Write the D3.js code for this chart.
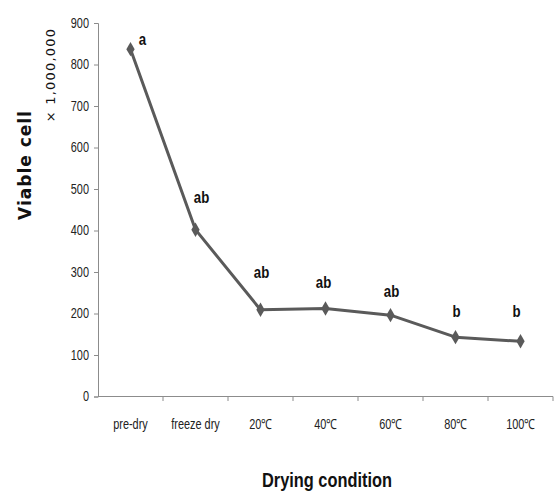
<!DOCTYPE html>
<html><head><meta charset="utf-8">
<script src="https://cdn.jsdelivr.net/npm/d3@7"></script>
<style>body{margin:0;background:#fff;} svg{display:block;}</style>
</head><body>
<svg id="c" width="555" height="493"></svg>
<script>
const categories = ["pre-dry","freeze dry","20\u2103","40\u2103","60\u2103","80\u2103","100\u2103"];
const values = [837, 402, 209, 212, 196, 143, 133];
const letters = ["a","ab","ab","ab","ab","b","b"];
const yTicks = [0,100,200,300,400,500,600,700,800,900];

const svg = d3.select("#c");
const x = d3.scaleBand().domain(categories).range([98, 553]);
const y = d3.scaleLinear().domain([0, 900]).range([396.5, 23]);
const font = "'Liberation Sans',Arial,sans-serif";
const axisCol = "#8c8c8c";
const SX = 0.78;

// y axis
const ya = svg.append("g").attr("transform","translate(98,0)")
  .call(d3.axisLeft(y).tickValues(yTicks).tickSize(4).tickPadding(5).tickFormat(d3.format("d")));
ya.select(".domain").attr("stroke", axisCol);
ya.selectAll(".tick line").attr("stroke", axisCol);
ya.selectAll(".tick text").attr("font-family", font).attr("font-size", 14).attr("fill","#222")
  .attr("x", -9/SX).attr("transform", `scale(${SX},1)`);

// x axis
const xa = svg.append("g").attr("transform","translate(0,396.5)")
  .call(d3.axisBottom(x).tickSize(0).tickPadding(23));
xa.select(".domain").attr("stroke", axisCol).attr("d","M98,0H553");
xa.selectAll(".tick text").attr("font-family", font).attr("font-size", 14).attr("fill","#222")
  .attr("transform", `scale(${SX},1)`);
const bounds = categories.map(c => x(c)).concat([x.range()[1]]).slice(1);
svg.append("g").selectAll("line").data(bounds).join("line")
  .attr("x1", d=>d).attr("x2", d=>d).attr("y1",396.5).attr("y2",401)
  .attr("stroke", axisCol);

// line
const cx = c => x(c) + x.bandwidth()/2;
const pts = categories.map((c,i)=>[cx(c), y(values[i])]);
svg.append("path").attr("d", d3.line()(pts)).attr("fill","none")
  .attr("stroke","#5a5a5a").attr("stroke-width",3).attr("stroke-linejoin","round");
svg.append("g").selectAll("path").data(pts).join("path")
  .attr("d", d3.symbol(d3.symbolDiamond, 60)())
  .attr("transform", d=>`translate(${d[0]},${d[1]})`)
  .attr("fill","#5a5a5a");

// letters
const lblOff = [[12,-4],[6,-27],[1,-32],[-2,-21],[1,-18],[1,-20],[-4,-24]];
svg.append("g").selectAll("text").data(categories).join("text")
  .attr("x",(c,i)=>(cx(c)+lblOff[i][0])/SX).attr("y",(c,i)=>y(values[i])+lblOff[i][1])
  .attr("transform", `scale(${SX},1)`)
  .attr("text-anchor","middle").attr("font-family",font).attr("font-weight","bold")
  .attr("font-size",17).attr("fill","#111").text((c,i)=>letters[i]);

// axis titles
svg.append("text").attr("transform","translate(31,165) rotate(-90)").attr("text-anchor","middle")
  .attr("font-family","'DejaVu Sans',Verdana,sans-serif").attr("font-weight","bold")
  .attr("font-size",17).attr("letter-spacing",1).attr("fill","#111").text("Viable cell");
svg.append("text").attr("transform","translate(55,75) rotate(-90)").attr("text-anchor","middle")
  .attr("font-family","'DejaVu Sans',Verdana,sans-serif")
  .attr("font-size",13).attr("letter-spacing",1.2).attr("fill","#111").text("\u00d7 1,000,000");
svg.append("text").attr("transform",`scale(0.82,1)`).attr("x",327/0.82).attr("y",487).attr("text-anchor","middle")
  .attr("font-family",font).attr("font-weight","bold")
  .attr("font-size",20).attr("fill","#111").text("Drying condition");
</script>
</body></html>
